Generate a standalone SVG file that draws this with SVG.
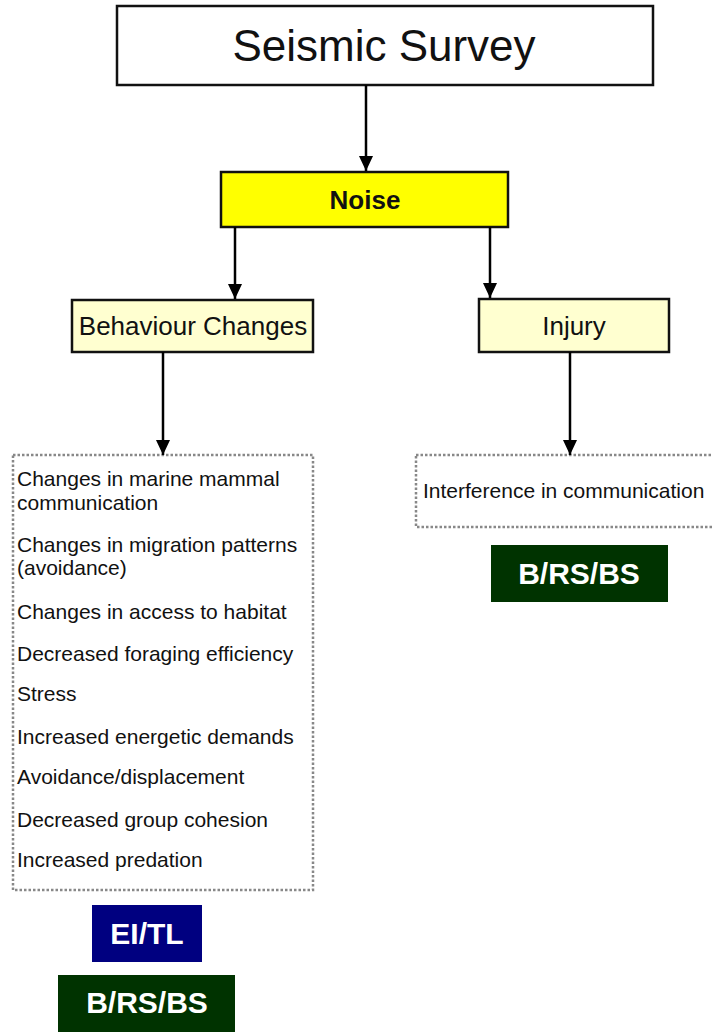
<svg xmlns="http://www.w3.org/2000/svg" width="712" height="1032" viewBox="0 0 712 1032">
<defs>
<marker id="arr" viewBox="0 0 15 14" refX="15" refY="7" markerWidth="15" markerHeight="14" markerUnits="userSpaceOnUse" orient="auto">
<path d="M0,0 L15,7 L0,14 Z" fill="#000"/>
</marker>
</defs>
<style>
text{font-family:"Liberation Sans",Arial,sans-serif;fill:#111}
.box{stroke:#111;stroke-width:2.5}
.lbl{font-size:26px;text-anchor:middle}
.list{fill:#fff;stroke:#888;stroke-width:2.5;stroke-dasharray:2.5 2}
.item{font-size:21px}
.tag{font-size:30px;font-weight:bold;fill:#fff;text-anchor:middle}
.conn{stroke:#000;stroke-width:2.5;fill:none}
</style>
<rect width="712" height="1032" fill="#fff"/>
<g id="seismic">
<rect class="box" x="117" y="6" width="536" height="79" fill="#fff"/>
<text x="384" y="61" font-size="44" text-anchor="middle">Seismic Survey</text>
</g>
<g id="noise">
<rect class="box" x="221" y="172" width="287" height="55" fill="#ffff00"/>
<text class="lbl" x="365" y="209" font-weight="bold">Noise</text>
</g>
<g id="behaviour">
<rect class="box" x="72" y="300" width="241" height="52" fill="#ffffd0"/>
<text class="lbl" x="193" y="335">Behaviour Changes</text>
</g>
<g id="injury">
<rect class="box" x="479" y="299" width="190" height="53" fill="#ffffd0"/>
<text class="lbl" x="574" y="335">Injury</text>
</g>
<g id="behaviour-list">
<rect class="list" x="13" y="455" width="300" height="435"/>
<text class="item" x="17" y="486">Changes in marine mammal</text>
<text class="item" x="17" y="510">communication</text>
<text class="item" x="17" y="552">Changes in migration patterns</text>
<text class="item" x="17" y="575">(avoidance)</text>
<text class="item" x="17" y="619">Changes in access to habitat</text>
<text class="item" x="17" y="661">Decreased foraging efficiency</text>
<text class="item" x="17" y="701">Stress</text>
<text class="item" x="17" y="744">Increased energetic demands</text>
<text class="item" x="17" y="784">Avoidance/displacement</text>
<text class="item" x="17" y="827">Decreased group cohesion</text>
<text class="item" x="17" y="867">Increased predation</text>
</g>
<g id="injury-list">
<rect class="list" x="416" y="455" width="310" height="72"/>
<text class="item" x="423" y="498">Interference in communication</text>
</g>
<g id="tag-eitl">
<rect x="92" y="905" width="110" height="57" fill="#000080"/>
<text class="tag" x="147" y="944">EI/TL</text>
</g>
<g id="tag-brsbs-left">
<rect x="58" y="975" width="177" height="57" fill="#003300"/>
<text class="tag" x="147" y="1013">B/RS/BS</text>
</g>
<g id="tag-brsbs-right">
<rect x="491" y="545" width="177" height="57" fill="#003300"/>
<text class="tag" x="579" y="584">B/RS/BS</text>
</g>
<g id="connectors">
<line class="conn" x1="366" y1="85" x2="366" y2="171" marker-end="url(#arr)"/>
<line class="conn" x1="235" y1="227" x2="235" y2="299" marker-end="url(#arr)"/>
<line class="conn" x1="490" y1="227" x2="490" y2="298" marker-end="url(#arr)"/>
<line class="conn" x1="163" y1="352" x2="163" y2="455" marker-end="url(#arr)"/>
<line class="conn" x1="570" y1="352" x2="570" y2="455" marker-end="url(#arr)"/>
</g>
</svg>
